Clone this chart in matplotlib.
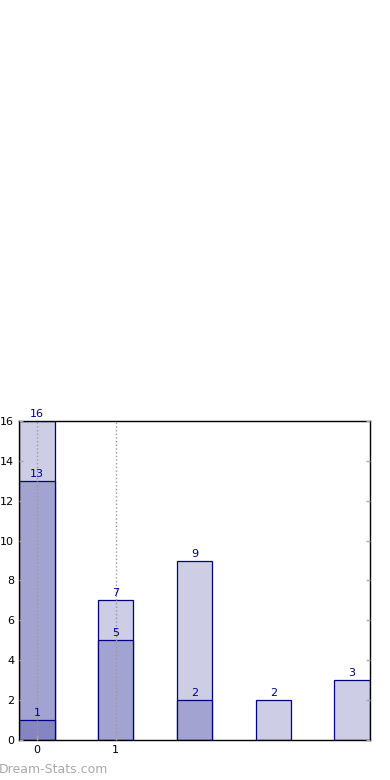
import numpy as np
import matplotlib
matplotlib.use("Agg")
import matplotlib.pyplot as plt

# Data (overlapping bars, drawn back to front)
positions = [0, 1, 2, 3, 4]
total = [16, 7, 9, 2, 3]
middle = [13, 5, 2, 0, 0]
inner = [1, 0, 0, 0, 0]
xtick_labels = ["0", "1"]

colors = ["#cdcde6", "#a3a3d1", "#8585c2"]
edge = "#000080"

fig = plt.figure(figsize=(3.9, 7.8), dpi=100)
ax = fig.add_axes([0.0487, 0.0513, 0.9, 0.4090])

width = 0.45
for vals, col in zip([total, middle, inner], colors):
    for x, v in zip(positions, vals):
        if v == 0:
            continue
        ax.bar(x, v, width=width, color=col, edgecolor=edge, linewidth=0.9, zorder=2)
        ax.text(x, v + 0.1, str(v), ha="center", va="bottom", fontsize=8,
                color="#000080", zorder=4)

ax.set_xlim(-0.228, 4.228)
ax.set_ylim(0, 16)
ax.set_xticks([0, 1])
ax.set_xticklabels(xtick_labels)
ax.set_yticks(np.arange(0, 17, 2))
ax.tick_params(axis="both", direction="in", colors="#aaaaaa", labelcolor="black",
               labelsize=8, length=3, width=1)
ax.tick_params(axis="y", right=True)
ax.xaxis.grid(True, linestyle=":", color="#999999", linewidth=1, zorder=3)
ax.set_axisbelow(False)
for s in ax.spines.values():
    s.set_color("black")
    s.set_linewidth(1)

fig.text(-0.003, 0.0045, "Dream-Stats.com", fontsize=9, color="#a8a8a8",
         ha="left", va="bottom")

fig.savefig("out.png", dpi=100)
